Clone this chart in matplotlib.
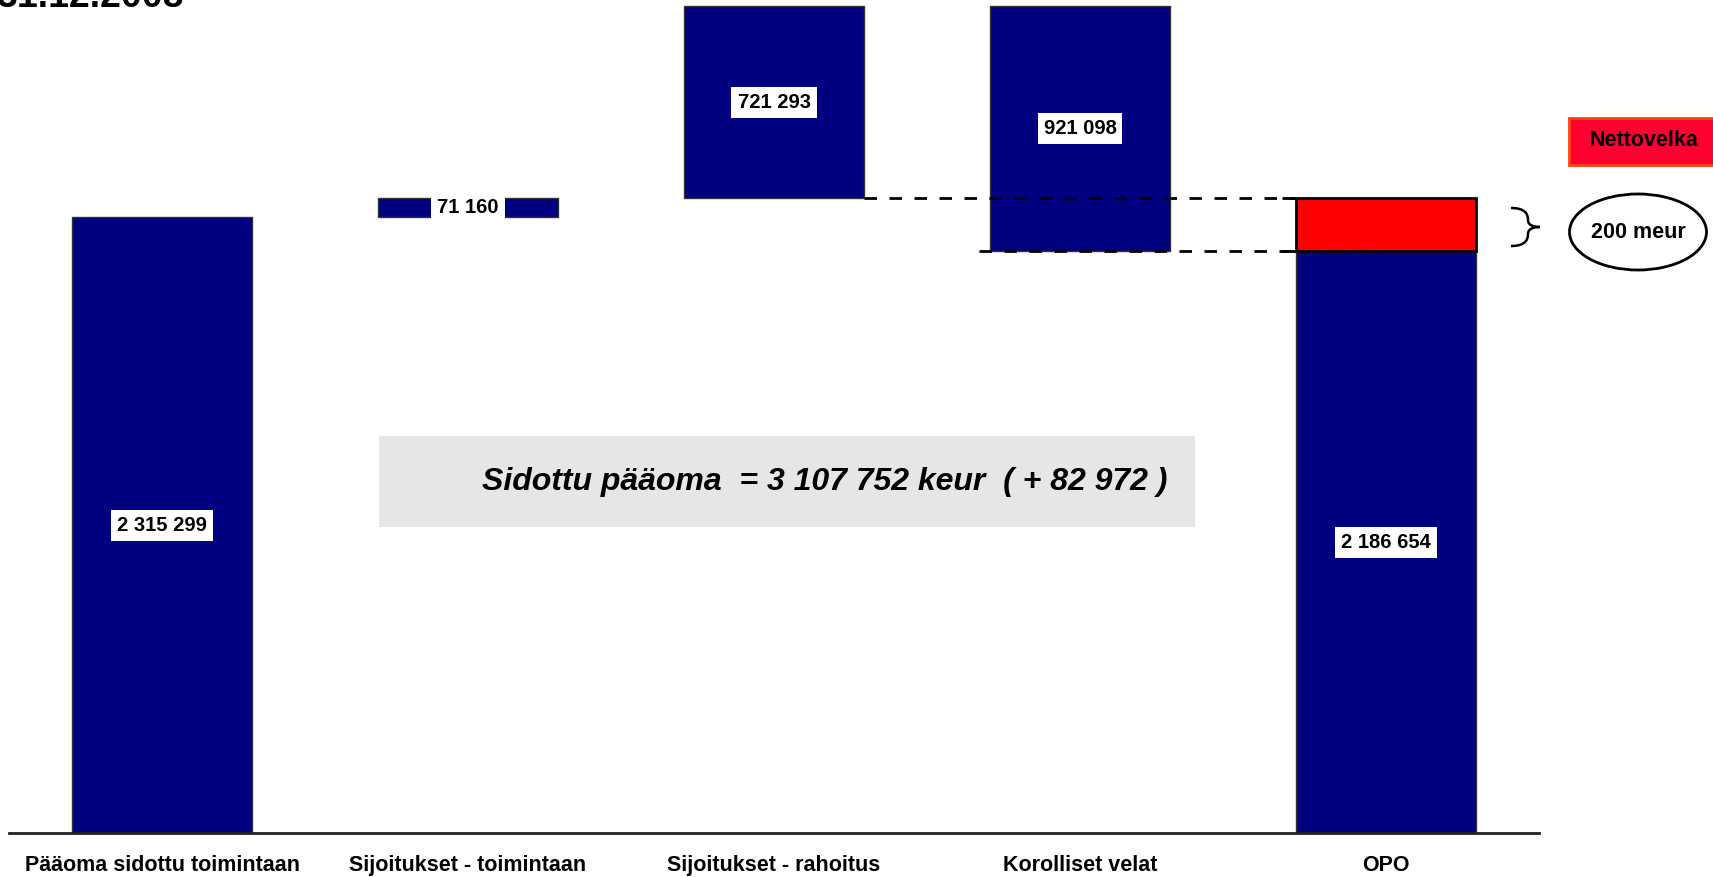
import matplotlib
matplotlib.use('Agg')
import matplotlib.pyplot as plt
from matplotlib.patches import Ellipse, PathPatch, Rectangle
from matplotlib.path import Path

W, H = 1713, 877

CATEGORIES = ['Pääoma sidottu toimintaan', 'Sijoitukset - toimintaan',
              'Sijoitukset - rahoitus', 'Korolliset velat', 'OPO']
STEPS = [2315299, 71160, 721293, -921098]   # keur
OPO_TOTAL = 2186654
NET_DEBT = 200000
VALUE_LABELS = ['2 315 299', '71 160', '721 293', '921 098', '2 186 654']
TOTAL_TEXT = 'Sidottu pääoma  = 3 107 752 keur  ( + 82 972 )'
DATE_TEXT = '31.12.2008'
NET_DEBT_TEXT = '200 meur'
LEGEND_TEXT = 'Nettovelka'

NAVY = '#000080'
RED = '#ff0000'
FONT = 'Liberation Sans'


def fx(px):
    return px / W


def fy(py):
    return 1 - py / H


def main() -> None:
    fig = plt.figure(figsize=(W / 100, H / 100), dpi=100)
    ax = fig.add_axes([fx(9), 44 / H, 1530 / W, 833 / H])

    # waterfall bottoms / heights
    bottoms, heights = [], []
    level = 0
    for step in STEPS:
        if step >= 0:
            bottoms.append(level)
            heights.append(step)
        else:
            bottoms.append(level + step)
            heights.append(-step)
        level += step
    bottoms.append(0)
    heights.append(OPO_TOTAL)

    xs = list(range(len(CATEGORIES)))
    width = 0.59
    ax.bar(xs, heights, bottom=bottoms, width=width, color=NAVY,
           edgecolor='#333333', linewidth=1, zorder=2)
    ax.bar(xs[-1], NET_DEBT, bottom=OPO_TOTAL, width=width, color=RED,
           edgecolor='black', linewidth=2, zorder=2)

    for x, b, h, lab in zip(xs, bottoms, heights, VALUE_LABELS):
        ax.text(x, b + h / 2, lab, ha='center', va='center', fontsize=14.5,
                fontweight='bold', family=FONT, zorder=5,
                bbox=dict(boxstyle='square,pad=0.3', fc='white', ec='none'))

    # connector lines
    top_level = STEPS[0] + STEPS[1]
    ax.hlines(top_level, xs[2] + width / 2, xs[4] - width / 2, colors='black',
              linestyles=(0, (4.5, 4.5)), linewidth=2, zorder=4)
    ax.hlines(OPO_TOTAL, 2.67, 3.95, colors='black',
              linestyles=(0, (4.5, 4.5)), linewidth=2, zorder=4)
    for lv in (OPO_TOTAL + NET_DEBT, OPO_TOTAL):
        ax.hlines(lv, xs[4] - width / 2 - 0.045, xs[4] - width / 2,
                  colors='black', linewidth=2, zorder=4)

    ax.set_xlim(-0.5, 4.5)
    ax.set_ylim(0, 3132000)
    ax.set_xticks(xs)
    ax.set_xticklabels(CATEGORIES, fontsize=15.5, fontweight='bold', family=FONT)
    ax.tick_params(axis='x', length=0, pad=16)
    ax.set_yticks([])
    for side in ('top', 'right', 'left'):
        ax.spines[side].set_visible(False)
    ax.spines['bottom'].set_linewidth(2)
    ax.spines['bottom'].set_color('#222222')

    # grey total box
    fig.patches.append(Rectangle((fx(379), fy(527)), 816 / W, 91 / H,
                                 transform=fig.transFigure, fc='#e6e6e6',
                                 ec='none', zorder=0))
    fig.text(fx(482), fy(482), TOTAL_TEXT, ha='left', va='center',
             fontsize=23, fontweight='bold', style='italic', family=FONT)

    # legend box
    fig.patches.append(Rectangle((fx(1569), fy(165)), 150 / W, 47 / H,
                                 transform=fig.transFigure, fc='#ff0030',
                                 ec='#ff4010', lw=2))
    fig.text(fx(1644), fy(141), LEGEND_TEXT, ha='center', va='center',
             fontsize=15.5, fontweight='bold', family=FONT)

    # brace and ellipse
    pts = [(1511, 208), (1524, 208), (1528, 213), (1528, 220),
           (1528, 225), (1533, 227), (1540, 227),
           (1533, 227), (1528, 229), (1528, 234),
           (1528, 241), (1524, 246), (1511, 246)]
    codes = [Path.MOVETO] + [Path.CURVE4] * 12
    brace = Path([(fx(a), fy(b)) for a, b in pts], codes)
    fig.patches.append(PathPatch(brace, transform=fig.transFigure, fc='none',
                                 ec='black', lw=1.8))
    fig.patches.append(Ellipse((fx(1638), fy(232)), 137 / W, 76 / H,
                               transform=fig.transFigure, fc='white',
                               ec='black', lw=2))
    fig.text(fx(1638), fy(232), NET_DEBT_TEXT, ha='center', va='center',
             fontsize=15.5, fontweight='bold', family=FONT)

    # title, mostly cut off at the top
    fig.text(fx(-4), fy(7), DATE_TEXT, ha='left', va='baseline',
             fontsize=27, fontweight='bold', family=FONT)

    fig.savefig('out.png', dpi=100)
    plt.close(fig)


if __name__ == '__main__':
    main()
